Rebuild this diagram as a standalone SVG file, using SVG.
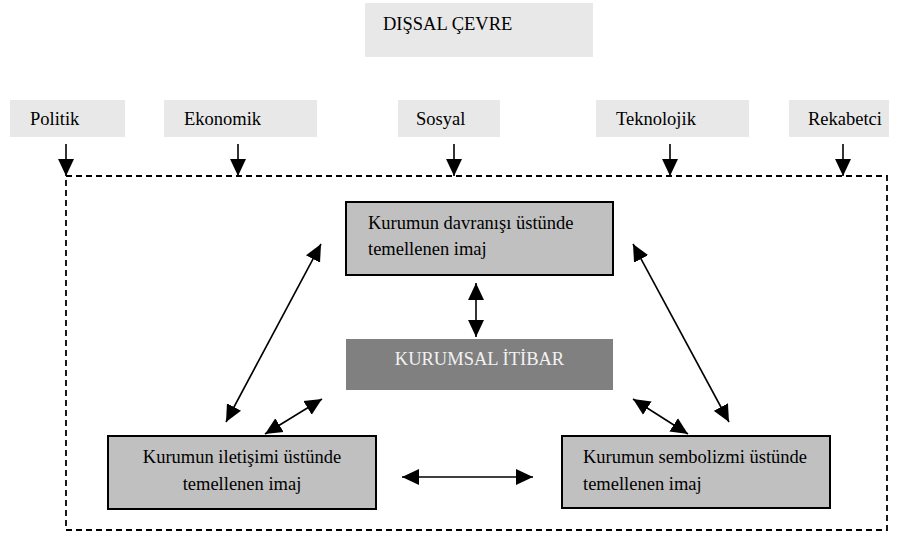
<svg xmlns="http://www.w3.org/2000/svg" width="913" height="536" viewBox="0 0 913 536" font-family="'Liberation Serif', 'Times New Roman', Times, 'DejaVu Serif', serif">
<style>
  text { font-family: "Liberation Serif", "Times New Roman", Times, "DejaVu Serif", serif; font-size: 18.5px; fill: #000; }
  .env { fill: #e8e8e8; stroke: none; }
  .img { fill: #c0c0c0; stroke: #000; stroke-width: 2; }
  .core { fill: #808080; stroke: none; }
  .core-t { fill: #f2f2f2; }
  .arr { stroke: #000; stroke-width: 1.6; fill: none; marker-end: url(#ah); }
  .dbl { stroke: #000; stroke-width: 1.6; fill: none; marker-start: url(#ah); marker-end: url(#ah); }
  .border { fill: none; stroke: #000; stroke-width: 1.8; stroke-dasharray: 6 4; }
</style>
<defs>
  <marker id="ah" markerUnits="userSpaceOnUse" markerWidth="17" markerHeight="17" refX="16" refY="7.5" orient="auto-start-reverse" viewBox="0 0 16 15">
    <path d="M0,0 L16,7.5 L0,15 z" fill="#000"/>
  </marker>
</defs>
<rect width="913" height="536" fill="#fff"/>

<g id="title">
  <rect class="env" x="365" y="3" width="228" height="54"/>
  <text x="383" y="30">DIŞSAL ÇEVRE</text>
</g>

<g id="politik">
  <rect class="env" x="10" y="100" width="115" height="37"/>
  <text x="30" y="125">Politik</text>
</g>
<g id="ekonomik">
  <rect class="env" x="164" y="100" width="153" height="37"/>
  <text x="184" y="125">Ekonomik</text>
</g>
<g id="sosyal">
  <rect class="env" x="398" y="100" width="102" height="37"/>
  <text x="416" y="125">Sosyal</text>
</g>
<g id="teknolojik">
  <rect class="env" x="596" y="100" width="153" height="37"/>
  <text x="616" y="125">Teknolojik</text>
</g>
<g id="rekabetci">
  <rect class="env" x="789" y="100" width="100" height="37"/>
  <text x="808" y="125">Rekabetci</text>
</g>

<g id="cevre-sinir">
  <rect class="border" x="66" y="176" width="821" height="354"/>
</g>

<g id="davranis">
  <rect class="img" x="346" y="202" width="267" height="73"/>
  <text x="368" y="229">Kurumun davranışı üstünde</text>
  <text x="368" y="255">temellenen imaj</text>
</g>

<g id="itibar">
  <rect class="core" x="346" y="339" width="267" height="51"/>
  <text class="core-t" x="479.5" y="365" text-anchor="middle">KURUMSAL İTİBAR</text>
</g>

<g id="iletisim">
  <rect class="img" x="108" y="436" width="268" height="73"/>
  <text x="242" y="463" text-anchor="middle">Kurumun iletişimi üstünde</text>
  <text x="242" y="490" text-anchor="middle">temellenen imaj</text>
</g>

<g id="sembolizm">
  <rect class="img" x="562" y="436" width="268" height="72"/>
  <text x="583" y="463">Kurumun sembolizmi üstünde</text>
  <text x="583" y="490">temellenen imaj</text>
</g>

<g id="connectors">
  <line class="arr" x1="66" y1="144" x2="66" y2="176"/>
  <line class="arr" x1="238" y1="144" x2="238" y2="176"/>
  <line class="arr" x1="454" y1="144" x2="454" y2="176"/>
  <line class="arr" x1="670" y1="144" x2="670" y2="176"/>
  <line class="arr" x1="843" y1="144" x2="843" y2="176"/>

  <line class="dbl" x1="476" y1="283" x2="476" y2="337"/>
  <line class="dbl" x1="321" y1="244" x2="226" y2="422"/>
  <line class="dbl" x1="633" y1="244" x2="729" y2="422"/>
  <line class="dbl" x1="265" y1="434" x2="322" y2="399"/>
  <line class="dbl" x1="633" y1="399" x2="688" y2="434"/>
  <line class="dbl" x1="402" y1="477" x2="533" y2="477"/>
</g>
</svg>
